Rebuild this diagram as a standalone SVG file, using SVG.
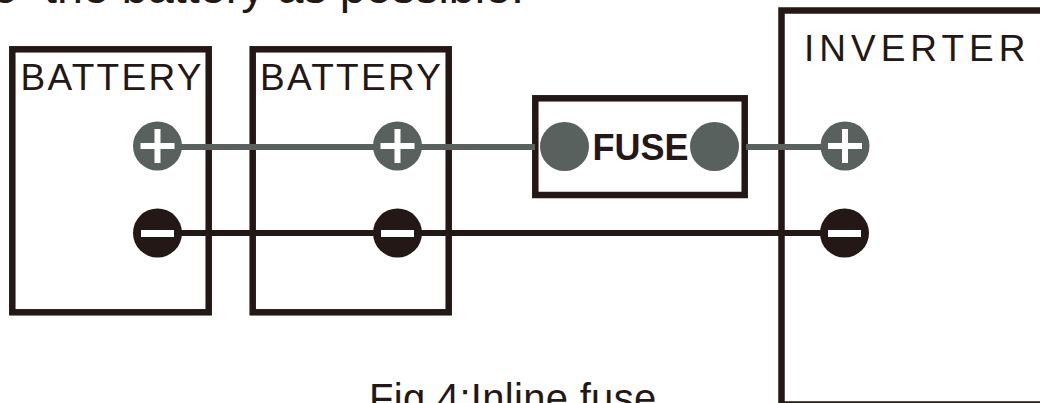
<svg xmlns="http://www.w3.org/2000/svg" width="1040" height="403" viewBox="0 0 1040 403">
<style>
text{font-family:"Liberation Sans",Arial,sans-serif;fill:#231815}
.box{fill:none;stroke:#231815;stroke-width:6.500}
.pos{fill:#59615f}
.neg{fill:#231815}
.sym{fill:#fff}
.wp{stroke:#59615f;stroke-width:6;fill:none}
.wn{stroke:#231815;stroke-width:6;fill:none}
.lbl{font-size:37px;letter-spacing:2.300px}
</style>
<rect width="1040" height="403" fill="#fff"/>
<text id="top-note" x="-8" y="3" font-size="46.700">o<tspan dx="13"> the battery as possible.</tspan></text>
<g id="battery-1"><rect class="box" x="12.300" y="49.300" width="196.400" height="263"/><text class="lbl" x="20.500" y="90">BATTERY</text></g>
<g id="battery-2"><rect class="box" x="252.700" y="49.300" width="196" height="263"/><text class="lbl" x="260" y="90">BATTERY</text></g>
<g id="fuse"><rect class="box" x="535.300" y="98.300" width="209.400" height="96.700"/><text x="592.500" y="160" font-size="36" font-weight="bold">FUSE</text></g>
<g id="inverter"><rect class="box" x="781.500" y="10.500" width="300" height="394"/><text class="lbl" style="letter-spacing:5px" x="804" y="61">INVERTER</text></g>
<g id="connectors">
<path class="wp" d="M181 147H535M746 147H822"/>
<path class="wn" d="M178 233H822"/>
</g>
<g id="terminals">
<g id="bat1-pos"><circle class="pos" cx="157.500" cy="146" r="24.500"/><path class="sym" d="M154.500 129h6v14h14v6h-14v14h-6v-14h-14v-6h14z"/></g>
<g id="bat2-pos"><circle class="pos" cx="397.500" cy="146" r="24.500"/><path class="sym" d="M394.500 129h6v14h14v6h-14v14h-6v-14h-14v-6h14z"/></g>
<g id="inv-pos"><circle class="pos" cx="845" cy="146" r="24.500"/><path class="sym" d="M842 129h6v14h14v6h-14v14h-6v-14h-14v-6h14z"/></g>
<g id="bat1-neg"><circle class="neg" cx="157.500" cy="233" r="24.500"/><rect class="sym" x="141" y="230" width="33" height="7"/></g>
<g id="bat2-neg"><circle class="neg" cx="397.500" cy="233" r="24.500"/><rect class="sym" x="381" y="230" width="33" height="7"/></g>
<g id="inv-neg"><circle class="neg" cx="844.500" cy="233" r="24.500"/><rect class="sym" x="828" y="230" width="33" height="7"/></g>
<g id="fuse-left"><circle class="pos" cx="564.500" cy="146.500" r="24.500"/></g>
<g id="fuse-right"><circle class="pos" cx="714.500" cy="146.500" r="24.500"/></g>
</g>
<text id="caption" x="369" y="412" font-size="40" letter-spacing="0.300">Fig 4:Inline fuse</text>
</svg>
